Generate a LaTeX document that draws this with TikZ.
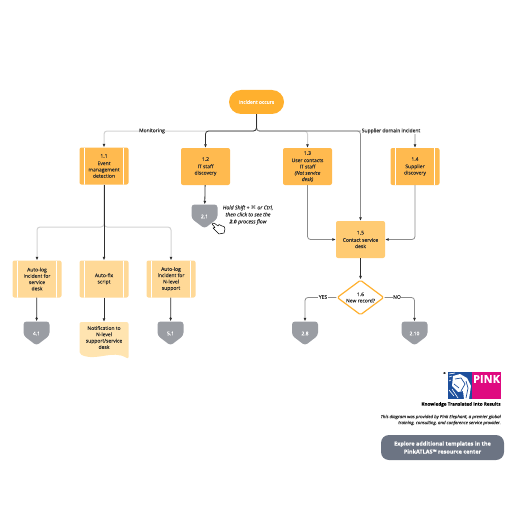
\documentclass[tikz,border=0pt]{standalone}
\usepackage{fontspec}
\setmainfont{Open Sans}[FakeBold=0.1]
\newfontfamily\symfont{DejaVu Sans}
\usetikzlibrary{calc,shapes.geometric,arrows.meta}
\definecolor{ink}{HTML}{2F2F2F}
\definecolor{mid}{HTML}{8C8C8C}
\definecolor{soft}{HTML}{D2D2D2}
\definecolor{amber}{HTML}{FFB02E}
\definecolor{task}{HTML}{FFBA4F}
\definecolor{tasklight}{HTML}{FFCB73}
\definecolor{autobox}{HTML}{FFD997}
\definecolor{paperdoc}{HTML}{FFE4B0}
\definecolor{pent}{HTML}{9A9DA3}
\definecolor{slate}{HTML}{6C7483}
\definecolor{logoblue}{HTML}{1D4F9C}
\definecolor{logopink}{HTML}{DF0A80}

\begin{document}
\begin{tikzpicture}[
    x=1pt, y=-1pt,
    txt/.style={font=\fontsize{5}{6.3}\selectfont, text=ink, align=center, inner sep=0pt},
    card/.style={txt, fill=#1, rounded corners=2pt, minimum width=49pt, minimum height=37pt},
    predefined/.style={card=#1, path picture={
        \draw[white, line width=0.8pt] ($(path picture bounding box.north west)+(5,0)$) -- ($(path picture bounding box.south west)+(5,0)$);
        \draw[white, line width=0.8pt] ($(path picture bounding box.north east)+(-5,0)$) -- ($(path picture bounding box.south east)+(-5,0)$);}},
    offpage/.style={txt, text=white, minimum width=26pt, minimum height=24pt, path picture={
        \fill[pent, rounded corners=3pt] (path picture bounding box.north west) -- (path picture bounding box.north east)
          -- ($(path picture bounding box.east)+(0,2)$) -- (path picture bounding box.south) -- ($(path picture bounding box.west)+(0,2)$) -- cycle;}},
    flow/.style={line width=0.8pt, rounded corners=3pt, -{Latex[length=3.5pt, width=3pt, color=ink]}},
    dark/.style={flow, draw=ink},
    grey/.style={flow, draw=mid},
    light/.style={flow, draw=soft, line width=1pt},
    tag/.style={txt, fill=white, inner sep=0.6pt},
  ]
  \useasboundingbox (0,0) rectangle (516,516);

  % Start und Prozesskarten
  \node[txt, text=white, fill=amber, rounded corners=12pt, minimum width=55pt, minimum height=24pt] (start) at (256.5,102) {Incident occurs};
  \node[predefined=task] (n11) at (104,166) {1.1\\[1pt]Event\\management\\detection};
  \node[card=task] (n12) at (205.5,166.5) {1.2\\[1pt]IT staff\\discovery};
  \node[card=task] (n13) at (307.5,166.5) {1.3\\[1pt]User contacts\\IT staff\\\textit{(Not service}\\\textit{desk)}};
  \node[predefined=task] (n14) at (415,166.5) {1.4\\[1pt]Supplier\\discovery};
  \node[card=tasklight] (n15) at (360.5,239.5) {1.5\\[1pt]Contact service\\desk};
  \node[txt, shape=diamond, draw=amber, fill=white, line width=1.2pt, rounded corners=1.5pt, aspect=1.35, minimum width=47pt, minimum height=35pt] (n16) at (360.5,297.5) {1.6\\New record?};

  % Automatische Schritte
  \node[predefined=autobox] (log1) at (37,279) {Auto-log\\incident for\\service\\desk};
  \node[predefined=autobox] (fix) at (104,279) {Auto-fix\\script};
  \node[predefined=autobox] (log2) at (171,279) {Auto-log\\incident for\\N-level\\support};

  % Sprungmarken
  \node[offpage] (p21) at (204.5,216.5) {2.1};
  \foreach \name/\px/\lab in {p41/36.5/4.1, p51/170.5/5.1, p28/305/2.8, p210/414.5/2.10}
    \node[offpage] (\name) at (\px,333.5) {\lab};

  % Dokument
  \node[txt, minimum width=49pt, minimum height=37pt, path picture={
      \fill[paperdoc, rounded corners=2pt] (path picture bounding box.north west) -- (path picture bounding box.north east)
        -- (path picture bounding box.south east) .. controls ($(path picture bounding box.south)+(8,-10)$) and ($(path picture bounding box.south)+(-7,3)$) .. ($(path picture bounding box.south west)+(0,-5)$) -- cycle;}] (doc) at (104,340.5) {};
  \node[txt] (doctext) at (104,337.5) {Notification to\\N-level\\support/service\\desk};

  \coordinate (bus) at (256.5,131);
  \coordinate (fork) at (104,227);

  % Verbindungen oben
  \draw[light] (start.south) -- (bus) -| (n11.north);
  \draw[light] (start.south) -- (bus) -| (n13.north);
  \draw[grey] (start.south) -- (bus) -| (n15.north);
  \draw[grey] (start.south) -- (bus) -| (n14.north);
  \draw[dark] (start.south) -- (bus) -| (n12.north);
  \draw[dark] (n12) -- (p21);
  \draw[grey] (n13.south) |- (n15.west);
  \draw[grey] (n14.south) |- (n15.east);
  \draw[dark] (n15) -- (n16);
  \draw[grey] (n16.west) -| (p28.north);
  \draw[grey] (n16.east) -| (p210.north);

  % Verbindungen unten
  \draw[light] (n11.south) -- (fork) -| (log1.north);
  \draw[light] (n11.south) -- (fork) -| (log2.north);
  \draw[dark, line width=1pt] (n11) -- (fix);
  \draw[dark] (log1) -- (p41);
  \draw[dark] (fix) -- (doc);
  \draw[dark] (log2) -- (p51);

  % Beschriftung der Kanten
  \node[tag] (monitoring) at (152,131) {Monitoring};
  \node[tag] (supplier) at (391,131) {Supplier domain incident};
  \node[tag] (yes) at (323,297) {YES};
  \node[tag] (no) at (397,297) {NO};

  % Hinweis und Mauszeiger
  \node[txt, font=\fontsize{5.2}{7}\selectfont\itshape] (hint) at (248,215) {Hold Shift + {\symfont ⌘} or Ctrl,\\then click to see the\\\textbf{2.0} process flow};
  \draw[fill=white, line width=0.5pt, line join=round] (212,224) -- (214,223) -- (218,226) -- (219,224.5) -- (222,226) -- (224,226.5) -- (225,229)
    -- (224,233) -- (219,234) -- (216,231) -- (213,228) -- (215,227.5) -- cycle;

  % Logo
  \fill[logoblue] (448,372) rectangle (472,399);
  \fill[logopink] (472,372) rectangle (501,399);
  \fill[white] (453,376) -- (460,374) -- (467,378) -- (471,386) -- (469,399) -- (464,399) -- (463,391) -- (458,392) -- (452,386) -- cycle;
  \draw[logoblue, line width=0.7pt] (455,379) -- (461,378) -- (465,384) -- (461,391) (466,381) -- (468,388) -- (466,398) (454,384) -- (459,388);
  \draw[white, line width=0.6pt] (449,374) -- (455,373) (449,377) -- (452,376) (449,381) -- (451,380) (449,390) -- (454,396) (452,389) -- (458,398);
  \node[txt, text=white, font=\fontsize{11}{11}\selectfont\bfseries] (pink) at (486.5,379) {PINK};
  \node[txt, font=\fontsize{2.5}{3}\selectfont] (reg) at (444.5,373) {®};
  \node[txt, text=black, font=\fontsize{4.6}{5}\selectfont\bfseries] (claim) at (461,404.5) {Knowledge Translated Into Results};
  \node[txt, font=\fontsize{4.4}{6}\selectfont\itshape, align=right, anchor=east] (credit) at (501,420) {This diagram was provided by Pink Elephant, a premier global\\training, consulting, and conference service provider.};

  % Schaltfläche
  \node[txt, text=white, fill=slate, rounded corners=8pt, minimum width=123pt, minimum height=25pt, font=\fontsize{5.5}{8}\selectfont\bfseries] (templates) at (442.5,447.5) {Explore additional templates in the\\PinkATLAS™ resource center};
\end{tikzpicture}
\end{document}
